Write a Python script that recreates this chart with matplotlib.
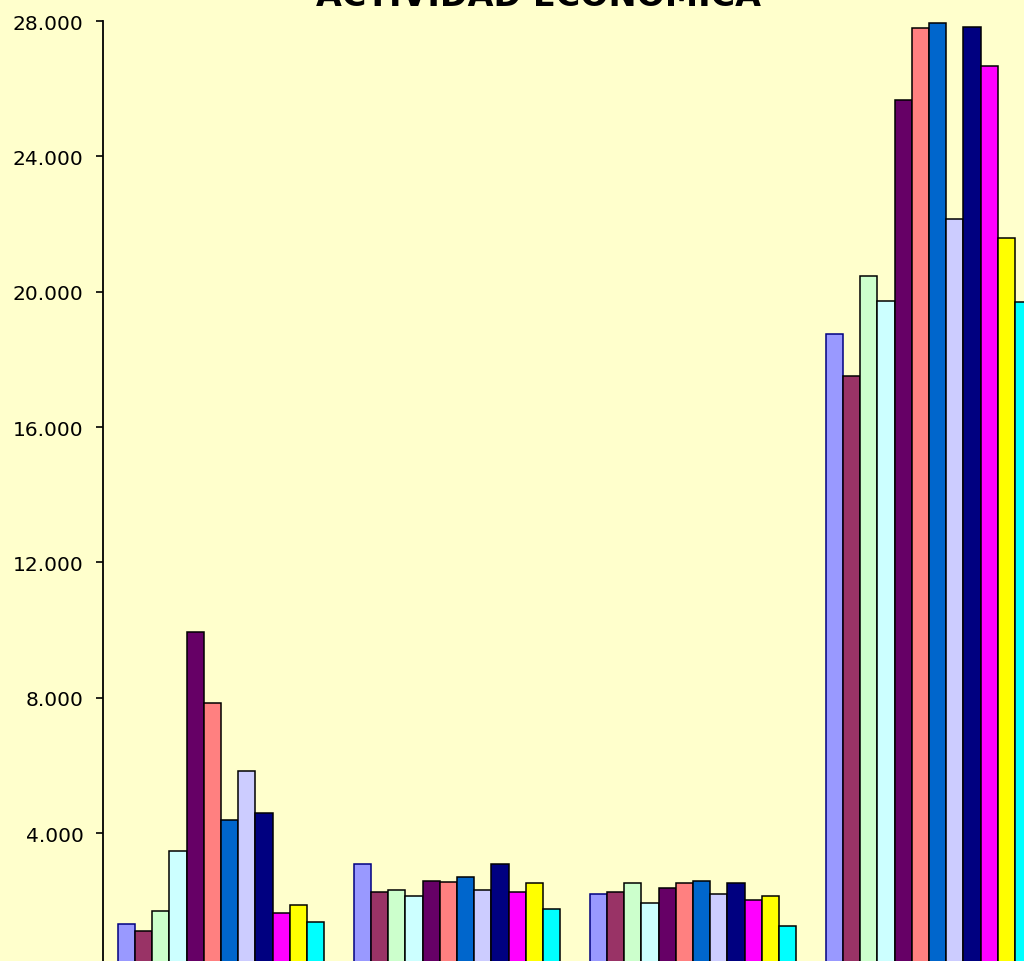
import matplotlib
matplotlib.use("Agg")
import matplotlib.pyplot as plt
import numpy as np
from matplotlib.ticker import FuncFormatter

categories = ["Sector 1", "Sector 2", "Sector 3", "Sector 4"]
series_names = ["S1", "S2", "S3", "S4", "S5", "S6", "S7", "S8", "S9", "S10", "S11", "S12"]
colors = ["#9999FF", "#993366", "#CCFFCC", "#CCFFFF", "#660066", "#FF8080",
          "#0066CC", "#CCCCFF", "#000080", "#FF00FF", "#FFFF00", "#00FFFF"]
edge_colors = ["#000080"] + ["#000000"] * 11

# values[series][category]
values = [
    [1300, 3095, 2198, 18755],
    [1120, 2257, 2247, 17513],
    [1685, 2306, 2523, 20470],
    [3469, 2139, 1922, 19731],
    [9955, 2592, 2365, 25674],
    [7836, 2543, 2533, 27785],
    [4376, 2691, 2592, 27951],
    [5825, 2306, 2198, 22147],
    [4603, 3095, 2533, 27833],
    [1636, 2257, 2020, 26662],
    [1863, 2533, 2139, 21585],
    [1360, 1745, 1242, 19683],
]
y_ticks = [0, 4000, 8000, 12000, 16000, 20000, 24000, 28000]
title = "ACTIVIDAD ECONÓMICA"

bg = "#FFFFCC"
fig = plt.figure(figsize=(10.24, 9.62), dpi=100, facecolor=bg)
ax = fig.add_axes([103/1024, (962-969.4)/962, 944/1024, (969.4-22)/962])
ax.set_facecolor(bg)

n = len(series_names)
bw = 0.875 / n
x = np.arange(len(categories))
for j in range(n):
    ax.bar(x - 0.4375 + (j + 0.5) * bw, values[j], width=bw,
           color=colors[j], edgecolor=edge_colors[j], linewidth=1.1, zorder=3)

ax.set_xlim(-0.5, len(categories) - 0.5)
ax.set_ylim(0, 28000)
ax.set_yticks(y_ticks)
ax.yaxis.set_major_formatter(FuncFormatter(lambda v, p: f"{int(v):,}".replace(",", ".")))
ax.tick_params(axis="y", direction="out", length=5, width=1.2, pad=9, labelsize=14.5,
               colors="#000000")
ax.tick_params(axis="x", length=0, labelbottom=False)
for s in ["top", "right"]:
    ax.spines[s].set_visible(False)
ax.spines["left"].set_linewidth(1.3)
ax.spines["bottom"].set_linewidth(1.3)

fig.text(538/1024, 1 - 5.5/962, title, ha="center", va="baseline",
         fontsize=24, fontweight="bold", color="#000000")

fig.savefig("out.png", dpi=100, facecolor=bg)
